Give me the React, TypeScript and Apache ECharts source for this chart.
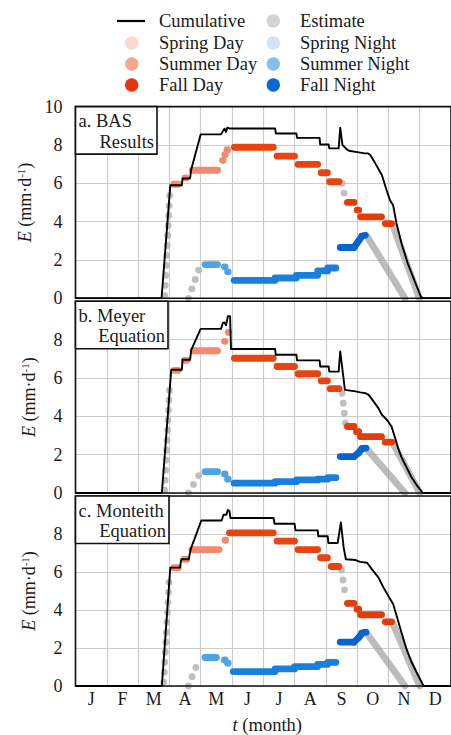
import React, { useEffect, useRef } from "react";
import * as echarts from "echarts";

const FONT = '"Liberation Serif", "Times New Roman", Times, serif';
const INK = "#1a1a1a";

// x values are in months from 1 January (0 = Jan 1, 12 = Dec 31); y in mm/d
const MONTHS = ["J", "F", "M", "A", "M", "J", "J", "A", "S", "O", "N", "D"];
const Y_MIN = 0;
const Y_MAX = 10;
const Y_STEP = 2;

// ---------- Panel a: BAS results ----------
const aCumulative = [
  [0, 0], [2.75, 0], [3.03, 5.9], [3.4, 5.9], [3.42, 6.25], [3.66, 6.25], [3.7, 6.73], [4.0, 8.55],
  [4.65, 8.55], [4.71, 8.72], [4.76, 8.85], [4.81, 8.68], [4.85, 8.9], [4.92, 8.86], [6.38, 8.86],
  [6.4, 8.6], [7.06, 8.6], [7.08, 8.37], [7.8, 8.37], [7.82, 8.02], [8.09, 8.02], [8.11, 7.82],
  [8.41, 7.82], [8.46, 8.9], [8.53, 8.0], [8.64, 7.82], [8.74, 7.7], [9.05, 7.61], [9.24, 7.56],
  [9.35, 7.56], [9.42, 7.47], [9.58, 7.04], [9.79, 6.43], [9.94, 5.65], [10.05, 5.12], [10.15, 4.86],
  [10.26, 3.9], [10.42, 2.86], [10.62, 1.81], [10.83, 0.94], [11.04, 0.07], [11.12, 0], [12, 0],
];
// segments: [x0, y0, x1, y1]
const aSpringDay = [
  [3.14, 5.95, 3.29, 5.95], [3.5, 6.28, 3.54, 6.28], [3.73, 6.68, 4.54, 6.68],
  [4.7, 7.2, 4.7, 7.2], [4.77, 7.5, 4.77, 7.5], [4.84, 7.75, 4.84, 7.75],
];
const aSummerDay = [
  [5.08, 7.88, 6.32, 7.88], [6.44, 7.42, 7.0, 7.42], [7.11, 6.99, 7.74, 6.99],
  [7.85, 6.55, 8.05, 6.55], [8.12, 6.08, 8.42, 6.08],
];
const aFallDay = [
  [8.69, 5.0, 8.9, 5.0], [9.0, 4.6, 9.05, 4.6], [9.11, 4.25, 9.78, 4.25], [9.9, 3.9, 10.1, 3.9],
];
const aSpringNight = [
  [4.14, 1.76, 4.54, 1.76], [4.76, 1.64, 4.76, 1.64], [4.86, 1.38, 4.86, 1.38],
];
const aSummerNight = [
  [5.07, 0.94, 6.38, 0.94], [6.38, 1.06, 7.06, 1.06], [7.06, 1.2, 7.74, 1.2],
  [7.74, 1.43, 8.06, 1.43], [8.06, 1.58, 8.32, 1.58],
];
const aFallNight = [
  [8.46, 2.65, 8.9, 2.65], [8.9, 2.65, 9.05, 3.0], [9.05, 3.0, 9.15, 3.22], [9.15, 3.25, 9.26, 3.29],
];
const aEstimateDotted = [[2.85, 0.15, 3.01, 5.4], [3.61, 0, 3.97, 1.64], [8.52, 6.0, 8.63, 5.1]];
const aEstimateSolid = [[9.31, 3.25, 10.53, 0], [10.14, 3.8, 10.99, 0]];

// ---------- Panel b: Meyer equation ----------
const bCumulative = [
  [0, 0], [2.76, 0], [3.06, 6.43], [3.4, 6.43], [3.42, 6.95], [3.66, 6.95], [3.7, 7.47], [4.0, 8.56],
  [4.65, 8.56], [4.71, 8.87], [4.76, 8.9], [4.81, 8.75], [4.87, 9.22], [4.94, 9.22], [4.97, 7.51],
  [6.38, 7.51], [6.4, 7.21], [7.06, 7.21], [7.08, 6.92], [7.8, 6.92], [7.82, 6.6], [8.09, 6.6],
  [8.11, 6.33], [8.41, 6.33], [8.46, 7.39], [8.61, 5.38], [8.95, 5.3], [9.1, 5.25], [9.26, 5.21],
  [9.37, 5.12], [9.53, 4.77], [9.68, 4.43], [9.79, 4.08], [9.9, 3.9], [9.99, 3.73], [10.1, 3.47],
  [10.2, 2.94], [10.31, 2.34], [10.41, 1.9], [10.57, 1.37], [10.73, 0.85], [10.94, 0.33], [11.1, 0], [12, 0],
];
const bSpringDay = [
  [3.15, 6.4, 3.29, 6.4], [3.48, 6.92, 3.56, 6.92], [3.76, 7.42, 4.54, 7.42],
  [4.76, 7.91, 4.76, 7.91], [4.88, 8.38, 4.88, 8.38],
];
const bSummerDay = [
  [5.08, 7.03, 6.32, 7.03], [6.44, 6.6, 7.0, 6.6], [7.11, 6.22, 7.74, 6.22],
  [7.85, 5.85, 8.05, 5.85], [8.14, 5.44, 8.42, 5.44],
];
const bFallDay = [
  [8.69, 3.47, 8.9, 3.47], [8.98, 3.2, 9.05, 3.2], [9.11, 2.94, 9.78, 2.94], [9.9, 2.65, 10.1, 2.65],
];
const bSpringNight = [
  [4.14, 1.11, 4.54, 1.11], [4.76, 0.99, 4.76, 0.99], [4.86, 0.72, 4.86, 0.72],
];
const bSummerNight = [
  [5.07, 0.51, 6.38, 0.51], [6.38, 0.59, 7.06, 0.59], [7.06, 0.68, 7.74, 0.68],
  [7.74, 0.72, 8.06, 0.72], [8.06, 0.8, 8.32, 0.8],
];
const bFallNight = [
  [8.46, 1.9, 8.9, 1.9], [8.9, 1.9, 9.05, 2.1], [9.05, 2.1, 9.15, 2.3], [9.15, 2.32, 9.28, 2.34],
];
const bEstimateDotted = [[2.85, 0.15, 3.01, 5.6], [3.61, 0, 3.97, 1.0], [8.52, 5.2, 8.63, 3.6]];
const bEstimateSolid = [[9.31, 2.3, 10.53, 0], [10.14, 2.6, 11.0, 0]];

// ---------- Panel c: Monteith equation ----------
const cCumulative = [
  [0, 0], [2.76, 0], [3.03, 6.23], [3.34, 6.23], [3.38, 6.67], [3.62, 6.67], [3.68, 7.19], [4.02, 8.71],
  [4.67, 8.71], [4.73, 9.01], [4.82, 9.01], [4.87, 9.27], [4.92, 9.2], [4.95, 8.84], [6.33, 8.84],
  [6.36, 8.54], [7.0, 8.54], [7.03, 8.19], [7.74, 8.19], [7.76, 7.88], [8.06, 7.88], [8.08, 7.53],
  [8.38, 7.53], [8.48, 8.61], [8.57, 7.28], [8.64, 6.67], [8.95, 6.63], [9.1, 6.53], [9.32, 6.49],
  [9.47, 6.15], [9.68, 5.71], [9.84, 5.19], [9.99, 4.76], [10.15, 4.32], [10.26, 3.71], [10.41, 2.85],
  [10.57, 1.98], [10.73, 1.29], [10.94, 0.59], [11.1, 0.07], [11.13, 0], [12, 0],
];
const cSpringDay = [
  [3.14, 6.23, 3.29, 6.23], [3.48, 6.67, 3.56, 6.67], [3.72, 7.18, 4.59, 7.18], [4.78, 7.67, 4.78, 7.67],
];
const cSummerDay = [
  [4.92, 8.06, 6.32, 8.06], [6.44, 7.63, 7.0, 7.63], [7.11, 7.18, 7.74, 7.18],
  [7.83, 6.75, 8.05, 6.75], [8.17, 6.29, 8.42, 6.29],
];
const cFallDay = [
  [8.69, 4.35, 8.9, 4.35], [9.0, 4.04, 9.05, 4.04], [9.11, 3.75, 9.78, 3.75], [9.9, 3.38, 10.1, 3.38],
];
const cSpringNight = [
  [4.14, 1.5, 4.5, 1.5], [4.76, 1.37, 4.76, 1.37], [4.86, 1.2, 4.86, 1.2],
];
const cSummerNight = [
  [5.04, 0.76, 6.38, 0.76], [6.38, 0.9, 7.0, 0.9], [7.0, 1.02, 7.74, 1.02],
  [7.74, 1.14, 8.06, 1.14], [8.06, 1.24, 8.32, 1.24],
];
const cFallNight = [
  [8.46, 2.31, 8.9, 2.31], [8.9, 2.31, 9.05, 2.55], [9.05, 2.55, 9.15, 2.75], [9.15, 2.8, 9.28, 2.83],
];
const cEstimateDotted = [[2.82, 0.2, 3.0, 5.8], [3.61, 0, 3.96, 1.45], [8.5, 6.1, 8.63, 4.7]];
const cEstimateSolid = [[9.31, 2.78, 10.53, 0], [10.14, 3.3, 11.0, 0]];

const PANEL_TITLES = [
  ["a. BAS", "Results"],
  ["b. Meyer", "Equation"],
  ["c. Monteith", "Equation"],
];

const LEGEND_LEFT = ["Cumulative", "Spring Day", "Summer Day", "Fall Day"];
const LEGEND_RIGHT = ["Estimate", "Spring Night", "Summer Night", "Fall Night"];
const LEGEND_LEFT_COLORS = ["#000000", "#fcd9d0", "#f6a791", "#e8340b"];
const LEGEND_RIGHT_COLORS = ["#d4d4d4", "#d0e4f6", "#84c0eb", "#0a68d3"];

const PLOT_COLORS = {
  springDay: "#f28a70",
  summerDay: "#e9430f",
  fallDay: "#e23c0b",
  springNight: "#4ea2e6",
  summerNight: "#1a7fdc",
  fallNight: "#0a62cc",
  estimateDotted: "rgba(180,180,180,0.85)",
  estimateSolid: "rgba(160,160,160,0.7)",
};

const panels = [
  { cum: aCumulative, sd: aSpringDay, smd: aSummerDay, fd: aFallDay, sn: aSpringNight, smn: aSummerNight, fn: aFallNight, ed: aEstimateDotted, es: aEstimateSolid },
  { cum: bCumulative, sd: bSpringDay, smd: bSummerDay, fd: bFallDay, sn: bSpringNight, smn: bSummerNight, fn: bFallNight, ed: bEstimateDotted, es: bEstimateSolid },
  { cum: cCumulative, sd: cSpringDay, smd: cSummerDay, fd: cFallDay, sn: cSpringNight, smn: cSummerNight, fn: cFallNight, ed: cEstimateDotted, es: cEstimateSolid },
];

// layout
const GRID_LEFT = 75.5;
const GRID_RIGHT = -6;
const GRID_TOPS = [106.6, 301.3, 496];
const GRID_H = 191.7;
const BAND_W = 6.8;

function segRender(color: string, width: number, dash?: number[]) {
  return (_params: any, api: any) => {
    const p0 = api.coord([api.value(0), api.value(1)]);
    const p1 = api.coord([api.value(2), api.value(3)]);
    let x2 = p1[0];
    if (Math.abs(p1[0] - p0[0]) < 0.3 && Math.abs(p1[1] - p0[1]) < 0.3) x2 = p0[0] + 0.6;
    return {
      type: "line",
      shape: { x1: p0[0], y1: p0[1], x2, y2: p1[1] },
      style: { stroke: color, lineWidth: width, lineCap: "round", lineDash: dash || null, fill: null },
    };
  };
}

function buildOption() {
  const grid: any[] = [];
  const xAxis: any[] = [];
  const yAxis: any[] = [];
  const series: any[] = [];
  const graphic: any[] = [];

  panels.forEach((p, i) => {
    grid.push({
      left: GRID_LEFT,
      right: GRID_RIGHT,
      top: GRID_TOPS[i],
      height: GRID_H,
      show: true,
      borderColor: "#111",
      borderWidth: 1.6,
      backgroundColor: "transparent",
      z: 3,
    });
    xAxis.push({
      type: "value",
      gridIndex: i,
      min: 0,
      max: 12,
      interval: 1,
      axisLabel: { show: false },
      axisTick: { show: false },
      axisLine: { show: false },
      splitLine: { show: true, lineStyle: { color: "#cdcdcd", width: 1.2 } },
    });
    yAxis.push({
      type: "value",
      gridIndex: i,
      min: Y_MIN,
      max: Y_MAX,
      interval: Y_STEP,
      axisLine: { show: false },
      axisTick: { show: false },
      splitLine: { show: true, lineStyle: { color: "#cdcdcd", width: 1.2 } },
      axisLabel: {
        fontFamily: FONT,
        fontSize: 18,
        color: INK,
        margin: 13,
        formatter: (v: number) => (i > 0 && v === Y_MAX ? "" : String(v)),
      },
      name: "{i|E} (mm·d{sup|-1})",
      nameLocation: "middle",
      nameGap: 38,
      nameRotate: 90,
      nameTextStyle: {
        fontFamily: FONT,
        fontSize: 18,
        color: INK,
        rich: {
          i: { fontFamily: FONT, fontSize: 18, fontStyle: "italic", color: INK },
          sup: { fontFamily: FONT, fontSize: 11, color: INK, verticalAlign: "top", lineHeight: 11 },
        },
      },
    });

    const bands: [any[], string, number, number[] | undefined][] = [
      [p.ed, PLOT_COLORS.estimateDotted, BAND_W, [0, 10]],
      [p.es, PLOT_COLORS.estimateSolid, BAND_W, undefined],
      [p.sn, PLOT_COLORS.springNight, BAND_W, undefined],
      [p.smn, PLOT_COLORS.summerNight, BAND_W, undefined],
      [p.fn, PLOT_COLORS.fallNight, BAND_W, undefined],
      [p.sd, PLOT_COLORS.springDay, BAND_W, undefined],
      [p.smd, PLOT_COLORS.summerDay, BAND_W, undefined],
      [p.fd, PLOT_COLORS.fallDay, BAND_W, undefined],
    ];
    bands.forEach(([data, color, w, dash]) => {
      series.push({
        type: "custom",
        xAxisIndex: i,
        yAxisIndex: i,
        silent: true,
        z: 2,
        renderItem: segRender(color, w, dash),
        encode: { x: [0, 2], y: [1, 3] },
        data,
      });
    });
    series.push({
      type: "line",
      xAxisIndex: i,
      yAxisIndex: i,
      data: p.cum,
      symbol: "none",
      silent: true,
      z: 5,
      lineStyle: { color: "#000", width: 1.9, join: "round" },
    });

    // panel title box
    const [l1, l2] = PANEL_TITLES[i];
    const boxW = [81.5, 92.5, 93.5][i];
    const top = GRID_TOPS[i];
    graphic.push({
      type: "rect",
      z: 100,
      shape: { x: GRID_LEFT, y: top, width: boxW, height: 47.5 },
      style: { fill: "#fff", stroke: "#111", lineWidth: 1.6 },
    });
    graphic.push({
      type: "text",
      z: 101,
      x: GRID_LEFT + 3,
      y: top + 14.5,
      style: { text: l1, fontFamily: FONT, fontSize: 18.5, fill: INK, align: "left", verticalAlign: "middle" },
    });
    graphic.push({
      type: "text",
      z: 101,
      x: GRID_LEFT + boxW - 3,
      y: top + 35,
      style: { text: l2, fontFamily: FONT, fontSize: 18.5, fill: INK, align: "right", verticalAlign: "middle" },
    });
  });

  // month labels on bottom panel
  xAxis.push({
    type: "category",
    gridIndex: 2,
    data: MONTHS,
    boundaryGap: true,
    position: "bottom",
    axisLine: { show: false },
    axisTick: { show: false },
    splitLine: { show: false },
    axisLabel: { interval: 0, fontFamily: FONT, fontSize: 18, color: INK, margin: 4 },
    name: "{i|t} (month)",
    nameLocation: "middle",
    nameGap: 29,
    nameTextStyle: {
      fontFamily: FONT,
      fontSize: 18.5,
      color: INK,
      padding: [0, 0, 0, 8],
      rich: { i: { fontFamily: FONT, fontSize: 18.5, fontStyle: "italic", color: INK } },
    },
  });

  // legend
  const rowsY = [21, 43, 64, 85];
  LEGEND_LEFT.forEach((name, k) => {
    if (k === 0) {
      graphic.push({
        type: "line",
        shape: { x1: 117, y1: rowsY[k], x2: 145, y2: rowsY[k] },
        style: { stroke: LEGEND_LEFT_COLORS[k], lineWidth: 2.2 },
      });
    } else {
      graphic.push({
        type: "circle",
        shape: { cx: 131.7, cy: rowsY[k], r: 6.7 },
        style: { fill: LEGEND_LEFT_COLORS[k] },
      });
    }
    graphic.push({
      type: "text",
      x: 159,
      y: rowsY[k],
      style: { text: name, fontFamily: FONT, fontSize: 18.5, fill: INK, align: "left", verticalAlign: "middle" },
    });
  });
  LEGEND_RIGHT.forEach((name, k) => {
    graphic.push({
      type: "circle",
      shape: { cx: 273.3, cy: rowsY[k], r: 6.7 },
      style: { fill: LEGEND_RIGHT_COLORS[k] },
    });
    graphic.push({
      type: "text",
      x: 300,
      y: rowsY[k],
      style: { text: name, fontFamily: FONT, fontSize: 18.5, fill: INK, align: "left", verticalAlign: "middle" },
    });
  });

  return {
    animation: false,
    backgroundColor: "#fff",
    grid,
    xAxis,
    yAxis,
    series,
    graphic,
  };
}

export default function App() {
  const ref = useRef<HTMLDivElement>(null);
  useEffect(() => {
    const chart = echarts.init(ref.current as HTMLDivElement, null, { renderer: "svg" });
    chart.setOption(buildOption() as any);
    return () => chart.dispose();
  }, []);
  return (
    <div
      ref={ref}
      style={{ position: "fixed", left: 0, top: 0, width: 451, height: 735, background: "#fff" }}
    />
  );
}
